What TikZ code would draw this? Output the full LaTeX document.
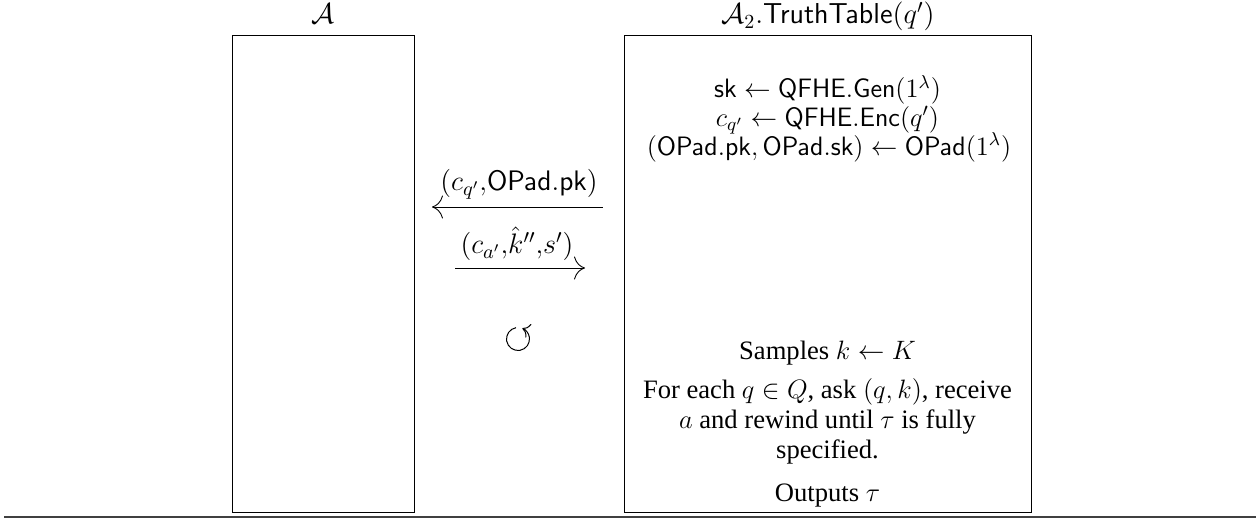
\RequirePackage{fix-cm}
\documentclass[tikz,border=0pt]{standalone}
\usepackage[no-math]{fontspec}
\setmainfont{Liberation Serif}
\usetikzlibrary{arrows.meta}
\begin{document}
\begin{tikzpicture}[x=0.5pt,y=-0.5pt,
  font=\fontsize{13.3}{15.8}\selectfont,
  party/.style={draw, line width=0.5pt, minimum height=238pt, inner sep=0pt},
  title/.style={inner sep=0pt, anchor=base, font=\fontsize{14.4}{17}\selectfont},
  txt/.style={inner sep=0pt, anchor=base},
  msg/.style={line width=0.45pt},
  msgl/.style={inner sep=0pt, anchor=base, font=\fontsize{14.1}{17}\selectfont}]
\useasboundingbox (0,0) rectangle (1260,519);
% parties
\node[party, minimum width=91pt] (adv) at (323,274) {};
\node[party, minimum width=203.5pt] (tt) at (827.5,274) {};
\node[title] (tA) at (323,24) {$\mathcal{A}$};
\node[title] (tT) at (828,24) {$\mathcal{A}_2.\mathsf{TruthTable}(q')$};
% right box content
\node[txt] (gen) at (827.5,98) {$\mathsf{sk}\leftarrow\mathsf{QFHE.Gen}(1^{\lambda})$};
\node[txt] (enc) at (827.5,126.5) {$c_{q'}\leftarrow\mathsf{QFHE.Enc}(q')$};
\node[txt] (opad) at (829,155.5) {$(\mathsf{OPad.pk},\mathsf{OPad.sk})\leftarrow\mathsf{OPad}(1^{\lambda})$};
\node[txt] (samp) at (827.5,359) {Samples $k\leftarrow K$};
\node[txt] (l1) at (827.5,398) {For each $q\in Q$, ask $(q,k)$, receive};
\node[txt] (l2) at (827.5,428) {$a$ and rewind until $\tau$ is fully};
\node[txt] (l3) at (827.5,458) {specified.};
\node[txt] (outp) at (827.5,501) {Outputs $\tau$};
% messages
\coordinate (m1l) at (432,207);
\coordinate (m1r) at (603,207);
\draw[msg, {Computer Modern Rightarrow[length=5.5pt]}-] (m1l) -- (m1r);
\node[msgl] (m1) at (519,191) {$(c_{q'}{,}\mathsf{OPad.pk})$};
\coordinate (m2l) at (455,268);
\coordinate (m2r) at (585,268);
\draw[msg, -{Computer Modern Rightarrow[length=5.5pt]}] (m2l) -- (m2r);
\node[msgl] (m2) at (517,254) {$(c_{a'}{,}\hat{k}''{,}s')$};
% rewind symbol
\coordinate (rw) at (518,339);
\draw[line width=0.5pt, -{Computer Modern Rightarrow[length=3.5pt]}] (rw) ++(-100:11.5) arc[start angle=-100, end angle=-428, radius=11.5];
% bottom rule
\coordinate (bl) at (4,517);
\coordinate (br) at (1256,517);
\draw[line width=1pt, black!75] (bl) -- (br);
\end{tikzpicture}
\end{document}
